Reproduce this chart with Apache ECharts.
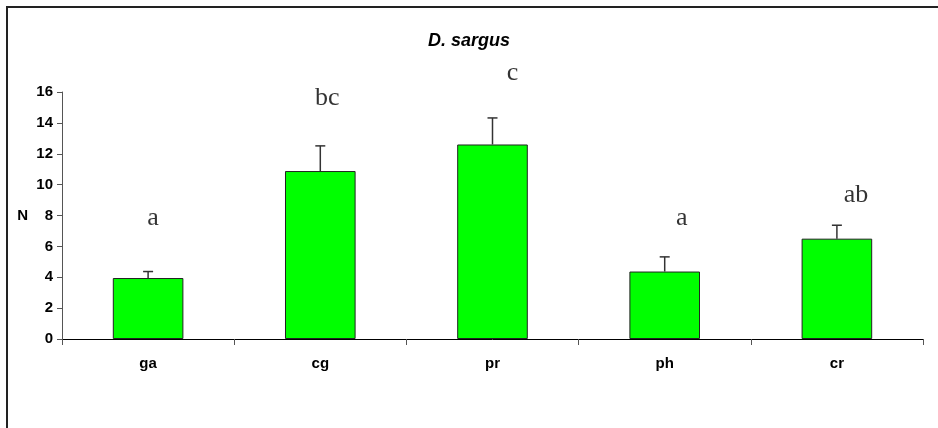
<!DOCTYPE html>
<html>
<head>
<meta charset="utf-8">
<style>
  html, body { margin: 0; padding: 0; background: #fff; }
  #chart { width: 938px; height: 428px; }
</style>
<script src="https://cdn.jsdelivr.net/npm/echarts@6/dist/echarts.min.js"></script>
</head>
<body>
<div id="chart"></div>
<script>
// Mean abundance (N) per habitat, with standard error and significance groups
var categories = ['ga', 'cg', 'pr', 'ph', 'cr'];
var meanN = [3.95, 10.88, 12.6, 4.37, 6.5];
var stdErr = [0.42, 1.63, 1.72, 0.95, 0.87];
var groupLetters = ['a', 'bc', 'c', 'a', 'ab'];
var letterHeights = [7.5, 15.3, 16.9, 7.5, 9.0];
var yTicks = [0, 2, 4, 6, 8, 10, 12, 14, 16];

// horizontal nudge (px) of each group letter from its category centre
var letterShift = [5, 7, 20, 17, 19];

var chart = echarts.init(document.getElementById('chart'), null, { renderer: 'canvas' });

var errorData = categories.map(function (c, i) { return [i, meanN[i], stdErr[i]]; });
var letterData = categories.map(function (c, i) { return [i, letterHeights[i]]; });

var option = {
  animation: false,
  backgroundColor: '#ffffff',
  title: {
    text: 'D. sargus',
    left: 'center',
    top: 27,
    textStyle: {
      fontFamily: 'Liberation Sans, Arial, sans-serif',
      fontSize: 18,
      fontWeight: 'bold',
      fontStyle: 'italic',
      color: '#000'
    }
  },
  graphic: [{
    type: 'rect',
    shape: { x: 7, y: 7, width: 940, height: 430 },
    style: { fill: 'none', stroke: '#222', lineWidth: 2 },
    silent: true
  }],
  grid: { left: 62, right: 15, top: 92, bottom: 89 },
  xAxis: {
    type: 'category',
    data: categories,
    boundaryGap: true,
    axisLine: { lineStyle: { color: '#000', width: 1 } },
    axisTick: { show: true, interval: 0, alignWithLabel: false, length: 6, lineStyle: { color: '#555' } },
    axisLabel: {
      interval: 0,
      margin: 17,
      fontFamily: 'Liberation Sans, Arial, sans-serif',
      fontSize: 15,
      fontWeight: 'bold',
      color: '#000'
    },
    splitLine: { show: false }
  },
  yAxis: {
    type: 'value',
    min: yTicks[0],
    max: yTicks[yTicks.length - 1],
    interval: yTicks[1] - yTicks[0],
    name: 'N',
    nameLocation: 'middle',
    nameRotate: 0,
    nameGap: 34,
    nameTextStyle: {
      fontFamily: 'Liberation Sans, Arial, sans-serif',
      fontSize: 15,
      fontWeight: 'bold',
      color: '#000',
      padding: [0, 0, 8, 0]
    },
    axisLine: { show: true, lineStyle: { color: '#555', width: 1 } },
    axisTick: { show: true, length: 5, lineStyle: { color: '#555' } },
    axisLabel: {
      margin: 9,
      fontFamily: 'Liberation Sans, Arial, sans-serif',
      fontSize: 15,
      fontWeight: 'bold',
      color: '#000'
    },
    splitLine: { show: false }
  },
  series: [
    {
      type: 'bar',
      data: meanN,
      barWidth: '41%',
      itemStyle: { color: '#00ff00', borderColor: '#222', borderWidth: 1 },
      z: 2
    },
    {
      type: 'custom',
      data: errorData,
      z: 3,
      renderItem: function (params, api) {
        var x = api.value(0);
        var base = api.coord([x, api.value(1)]);
        var top = api.coord([x, api.value(1) + api.value(2)]);
        var half = 5;
        var style = { stroke: '#333', lineWidth: 1.5 };
        return {
          type: 'group',
          children: [
            { type: 'line', shape: { x1: base[0], y1: base[1], x2: top[0], y2: top[1] }, style: style },
            { type: 'line', shape: { x1: top[0] - half, y1: top[1], x2: top[0] + half, y2: top[1] }, style: style }
          ]
        };
      }
    },
    {
      type: 'scatter',
      data: letterData,
      symbolSize: 0,
      clip: false,
      silent: true,
      z: 4,
      itemStyle: { color: '#000' },
      label: {
        show: true,
        position: 'inside',
        formatter: function (p) { return groupLetters[p.dataIndex]; },
        fontFamily: 'Liberation Serif, Times New Roman, serif',
        fontSize: 26,
        color: '#000',
        textBorderWidth: 0,
        verticalAlign: 'bottom'
      },
      labelLayout: function (p) {
        return { dx: letterShift[p.dataIndex], dy: 8 };
      }
    }
  ]
};

chart.setOption(option);
</script>
</body>
</html>
